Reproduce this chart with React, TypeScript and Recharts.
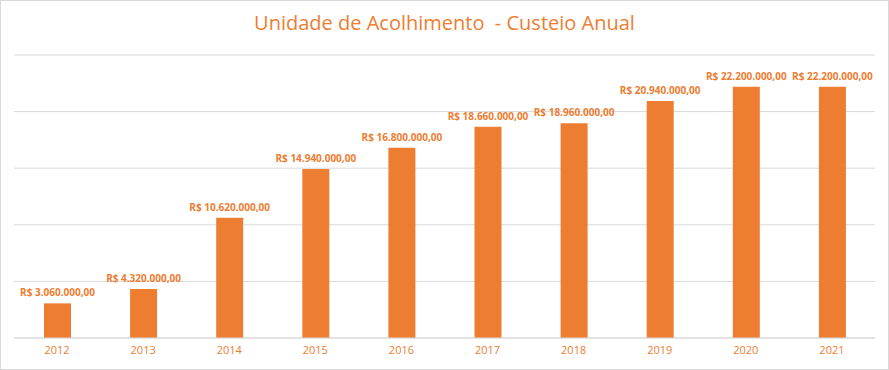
import React from 'react';
import { BarChart, Bar, XAxis, YAxis, CartesianGrid, LabelList } from 'recharts';

const years = ['2012', '2013', '2014', '2015', '2016', '2017', '2018', '2019', '2020', '2021'];
const custeio = [3060000, 4320000, 10620000, 14940000, 16800000, 18660000, 18960000, 20940000, 22200000, 22200000];
const yTicks = [0, 5000000, 10000000, 15000000, 20000000, 25000000];

const data = years.map((year, i) => ({ year, value: custeio[i] }));

const orange = '#ED7D31';
const font = '"Open Sans", sans-serif';

const formatBRL = (v: number) =>
  'R$ ' + v.toLocaleString('pt-BR', { minimumFractionDigits: 2, maximumFractionDigits: 2 });

// label drawn by hand so it stays on one line
const ValueLabel = (props: any) => {
  const { x, y, width, value } = props;
  return (
    <text
      x={Number(x) + Number(width) / 2}
      y={Number(y) - 7}
      textAnchor="middle"
      fill={orange}
      fontSize={10}
      fontWeight="bold"
      fontFamily={font}
    >
      {formatBRL(Number(value))}
    </text>
  );
};

const App: React.FC = () => {
  return (
    <div
      style={{
        position: 'absolute',
        left: 0,
        top: 0,
        width: 889,
        height: 370,
        boxSizing: 'border-box',
        border: '1px solid #d9d9d9',
        background: '#fff',
        fontFamily: font,
      }}
    >
      <div
        style={{
          position: 'absolute',
          top: 8,
          width: '100%',
          textAlign: 'center',
          color: orange,
          fontSize: 20,
          whiteSpace: 'pre',
        }}
      >
        Unidade de Acolhimento  - Custeio Anual
      </div>
      <BarChart
        width={887}
        height={368}
        data={data}
        margin={{ top: 54, right: 13, left: 13, bottom: 0 }}
        style={{ position: 'absolute', left: 0, top: 0 }}
      >
        <CartesianGrid vertical={false} stroke="#d9d9d9" />
        <YAxis hide domain={[0, 25000000]} ticks={yTicks} />
        <XAxis
          dataKey="year"
          height={31}
          tickLine={false}
          axisLine={{ stroke: '#d9d9d9' }}
          tick={{ fill: orange, fontSize: 11, fontFamily: font }}
        />
        <Bar dataKey="value" fill={orange} barSize={27} isAnimationActive={false}>
          <LabelList dataKey="value" content={<ValueLabel />} />
        </Bar>
      </BarChart>
    </div>
  );
};

export default App;
